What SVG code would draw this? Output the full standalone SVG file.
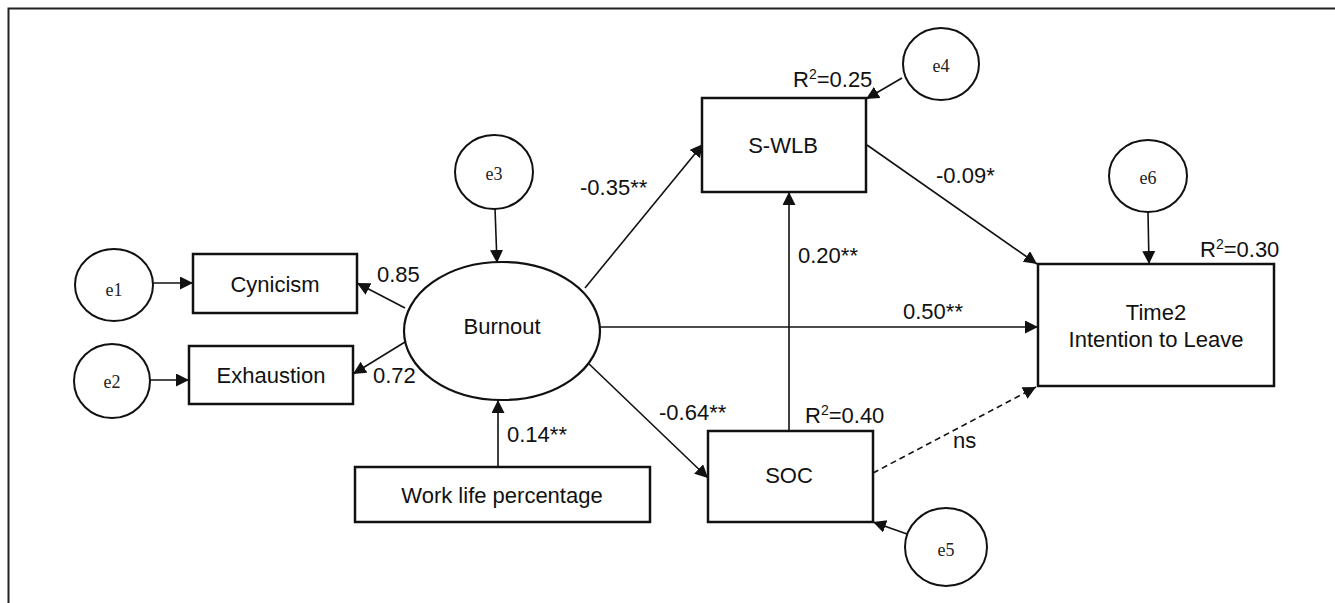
<svg xmlns="http://www.w3.org/2000/svg" width="1335" height="603" viewBox="0 0 1335 603">
  <style>
    .box { fill: #fff; stroke: #111; stroke-width: 2.5; }
    .latent { fill: #fff; stroke: #111; stroke-width: 2.2; }
    .err { fill: #fff; stroke: #111; stroke-width: 2; }
    .lbl { font-family: "Liberation Sans", Arial, sans-serif; font-size: 22px; fill: #111; }
    .mid { text-anchor: middle; }
    .elbl { font-family: "Liberation Serif", "Times New Roman", serif; font-size: 18px; fill: #222; text-anchor: middle; }
    .edge { fill: none; stroke: #111; stroke-width: 1.6; marker-end: url(#arrow); }
    .dashed { stroke-dasharray: 6 4; }
  </style>
  <defs>
    <marker id="arrow" markerUnits="userSpaceOnUse" markerWidth="14" markerHeight="14" refX="13" refY="6.5" orient="auto">
      <path d="M0,0 L13,6.5 L0,13 z" fill="#111"/>
    </marker>
  </defs>

  <rect width="1335" height="603" fill="#fff"/>
  <!-- outer frame (open to the right and bottom) -->
  <path d="M8.5 603 V8.5 H1335" fill="none" stroke="#222" stroke-width="2"/>

  <!-- connectors -->
  <g id="connectors">
    <line class="edge" x1="153" y1="283" x2="193" y2="283"/>
    <line class="edge" x1="150" y1="380" x2="189" y2="380"/>
    <line class="edge" x1="405" y1="308" x2="357" y2="283"/>
    <line class="edge" x1="405" y1="342" x2="353" y2="374"/>
    <line class="edge" x1="495" y1="208" x2="497" y2="263"/>
    <line class="edge" x1="498" y1="467" x2="498" y2="400"/>
    <line class="edge" x1="585" y1="288" x2="703" y2="144"/>
    <line class="edge" x1="587" y1="362" x2="708" y2="478"/>
    <line class="edge" x1="600" y1="327" x2="1038" y2="327"/>
    <line class="edge" x1="789" y1="431" x2="789" y2="192"/>
    <line class="edge" x1="902" y1="78" x2="866" y2="99"/>
    <line class="edge" x1="907" y1="534" x2="873" y2="522"/>
    <line class="edge" x1="867" y1="145" x2="1037" y2="264"/>
    <line class="edge" x1="1148" y1="212" x2="1149" y2="264"/>
    <line class="edge dashed" x1="873" y1="473" x2="1036" y2="387"/>
  </g>

  <!-- path labels -->
  <g id="path-labels" class="lbl">
    <text x="377" y="282">0.85</text>
    <text x="373" y="383">0.72</text>
    <text x="507" y="442">0.14**</text>
    <text x="580" y="195">-0.35**</text>
    <text x="659" y="420">-0.64**</text>
    <text x="798" y="263">0.20**</text>
    <text x="903" y="319">0.50**</text>
    <text x="936" y="183">-0.09*</text>
    <text x="953" y="448">ns</text>
    <text x="793" y="87">R<tspan font-size="14" dy="-8">2</tspan><tspan dy="8">=0.25</tspan></text>
    <text x="805" y="423">R<tspan font-size="14" dy="-8">2</tspan><tspan dy="8">=0.40</tspan></text>
    <text x="1200" y="257">R<tspan font-size="14" dy="-8">2</tspan><tspan dy="8">=0.30</tspan></text>
  </g>

  <g id="e1"><ellipse class="err" cx="114" cy="285" rx="39" ry="36"/><text class="elbl" x="114" y="296">e1</text></g>
  <g id="e2"><ellipse class="err" cx="112" cy="381" rx="38" ry="37"/><text class="elbl" x="112" y="388">e2</text></g>
  <g id="e3"><ellipse class="err" cx="494" cy="172" rx="39" ry="37"/><text class="elbl" x="494" y="180">e3</text></g>
  <g id="e4"><ellipse class="err" cx="941" cy="64" rx="38" ry="36"/><text class="elbl" x="941" y="72">e4</text></g>
  <g id="e5"><ellipse class="err" cx="946" cy="547" rx="41" ry="39"/><text class="elbl" x="946" y="556">e5</text></g>
  <g id="e6"><ellipse class="err" cx="1148" cy="176" rx="39" ry="36"/><text class="elbl" x="1148" y="184">e6</text></g>

  <g id="cynicism"><rect class="box" x="193" y="254" width="164" height="59"/><text class="lbl mid" x="275" y="292">Cynicism</text></g>
  <g id="exhaustion"><rect class="box" x="189" y="346" width="164" height="58"/><text class="lbl mid" x="271" y="383">Exhaustion</text></g>
  <g id="burnout"><ellipse class="latent" cx="502" cy="331" rx="98" ry="69"/><text class="lbl mid" x="502" y="334">Burnout</text></g>
  <g id="work-life"><rect class="box" x="355" y="467" width="295" height="55"/><text class="lbl mid" x="502" y="503">Work life percentage</text></g>
  <g id="s-wlb"><rect class="box" x="702" y="98" width="164" height="94"/><text class="lbl mid" x="783" y="153">S-WLB</text></g>
  <g id="soc"><rect class="box" x="708" y="431" width="165" height="91"/><text class="lbl mid" x="789" y="483">SOC</text></g>
  <g id="time2"><rect class="box" x="1038" y="264" width="236" height="122" stroke-width="3"/><text class="lbl mid" x="1156" y="320">Time2</text><text class="lbl mid" x="1156" y="347">Intention to Leave</text></g>
</svg>
